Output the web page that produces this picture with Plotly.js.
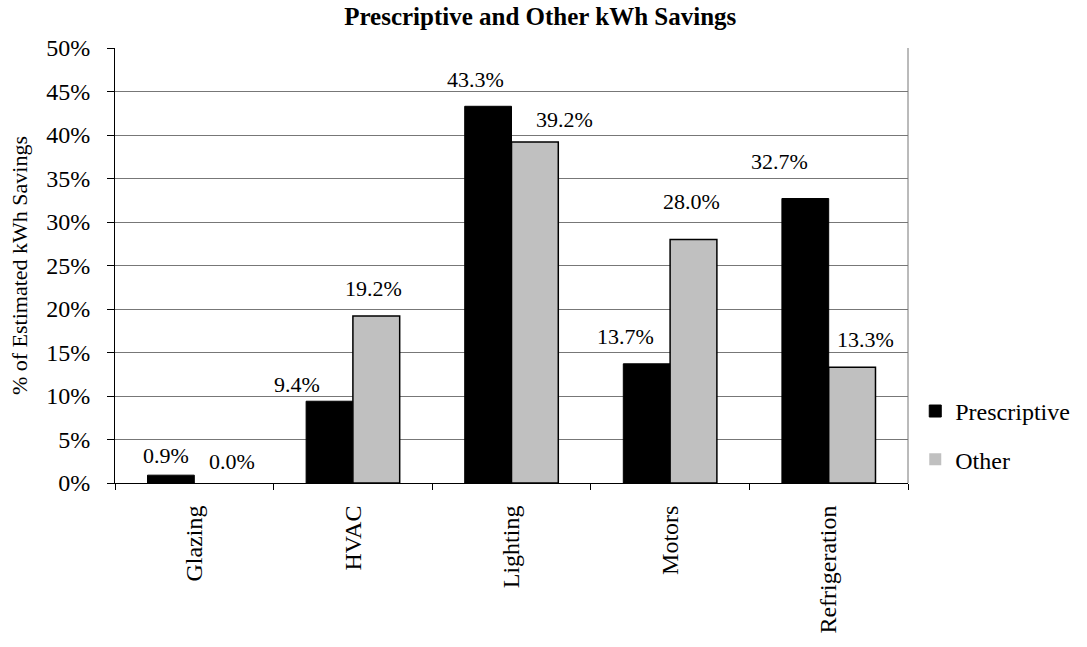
<!DOCTYPE html>
<html>
<head>
<meta charset="utf-8">
<script src="https://cdn.plot.ly/plotly-3.0.1.min.js"></script>
<style>html,body{margin:0;padding:0;background:#fff;}#chart{width:1087px;height:647px;}</style>
</head>
<body>
<div id="chart"></div>
<script>
// ---- data ----
var categories = ["Glazing", "HVAC", "Lighting", "Motors", "Refrigeration"];
var prescriptive = [0.009, 0.094, 0.433, 0.137, 0.327];
var other = [0.000, 0.192, 0.392, 0.280, 0.133];
var yTickVals = [0, 0.05, 0.10, 0.15, 0.20, 0.25, 0.30, 0.35, 0.40, 0.45, 0.50];
var yTickText = ["0%", "5%", "10%", "15%", "20%", "25%", "30%", "35%", "40%", "45%", "50%"];

// ---- label styling nudges (pixels, as placed in the original) ----
var prescLabelDx = [-5, -33, -13, -22, -26];
var prescLabelGap = [11, 8, 18, 19, 29];
var otherLabelDx = [15, -2, 30, -2, 14];
var otherLabelGap = [13, 19, 14, 29, 19];

var font = "'Liberation Serif', 'Times New Roman', serif";

var traces = [
  {type: "bar", name: "Prescriptive", x: categories, y: prescriptive,
   marker: {color: "#000000", line: {color: "#000000", width: prescriptive.map(function(v){return v > 0 ? 1 : 0;})}},
   legendgroup: "a", hoverinfo: "skip"},
  {type: "bar", name: "Other", x: categories, y: other,
   marker: {color: "#c0c0c0", line: {color: "#000000", width: other.map(function(v){return v > 0 ? 1.5 : 0;})}},
   legendgroup: "b", hoverinfo: "skip"}
];

var annotations = [];
function addLabels(vals, baseShift, dx, gap) {
  for (var i = 0; i < categories.length; i++) {
    annotations.push({
      xref: "x", yref: "y", x: categories[i], y: vals[i],
      text: (vals[i] * 100).toFixed(1) + "%",
      showarrow: false, xanchor: "center", yanchor: "bottom",
      xshift: baseShift + dx[i], yshift: gap[i] - 6,
      font: {family: font, size: 22, color: "#000"}
    });
  }
}
addLabels(prescriptive, -23, prescLabelDx, prescLabelGap);
addLabels(other, 23, otherLabelDx, otherLabelGap);

var layout = {
  width: 1087, height: 647,
  margin: {l: 115, r: 179, t: 48, b: 164, autoexpand: false},
  paper_bgcolor: "#fff", plot_bgcolor: "#fff",
  title: {text: "<b>Prescriptive and Other kWh Savings</b>", x: 0.497, xanchor: "center", y: 0.988, yanchor: "top",
          font: {family: font, size: 25, color: "#000"}},
  barmode: "group",
  bargap: 0.41, bargroupgap: 0,
  showlegend: true,
  legend: {xref: "container", yref: "container", x: 0.842, xanchor: "left", y: 0.327, yanchor: "middle",
           font: {family: font, size: 24, color: "#000"},
           traceorder: "grouped", tracegroupgap: 14, itemwidth: 30},
  xaxis: {
    tickangle: -90, tickfont: {family: font, size: 24, color: "#000"},
    showline: true, linecolor: "#000", linewidth: 1,
    ticks: "outside", ticklen: 6, tickcolor: "#000", tickson: "boundaries",
    ticklabelstandoff: 12, automargin: false,
    showgrid: false, fixedrange: true
  },
  yaxis: {
    range: [0, 0.5], tickvals: yTickVals, ticktext: yTickText,
    tickfont: {family: font, size: 24, color: "#000"},
    showline: true, linecolor: "#000", linewidth: 1,
    ticks: "outside", ticklen: 7, tickcolor: "#000",
    ticklabelstandoff: 12, automargin: false,
    showgrid: true, gridcolor: "#777", gridwidth: 1,
    zeroline: false,
    title: {text: "% of Estimated kWh Savings", font: {family: font, size: 22, color: "#000"}, standoff: 12},
    fixedrange: true
  },
  shapes: [
    {type: "line", xref: "paper", yref: "paper", x0: 1, x1: 1, y0: 0, y1: 1, line: {color: "#777", width: 1}}
  ],
  annotations: annotations
};

Plotly.newPlot("chart", traces, layout, {displayModeBar: false, staticPlot: true});
</script>
</body>
</html>
